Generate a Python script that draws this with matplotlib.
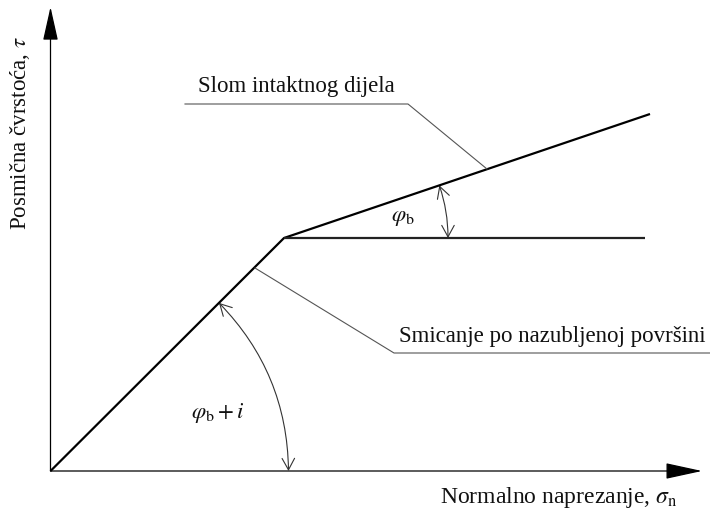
import numpy as np
import matplotlib
matplotlib.use("Agg")
import matplotlib.pyplot as plt
from matplotlib.patches import FancyArrowPatch

plt.rcParams['font.family'] = ['Liberation Serif', 'DejaVu Serif']
plt.rcParams['mathtext.fontset'] = 'stix'

# bilinear failure envelope (normal stress sigma, shear strength tau)
env_sigma = [0.0, 233.5, 599.5]
env_tau = [0.0, 233.0, 357.0]
# horizontal continuation (sliding on base friction)
hor_sigma = [233.5, 594.5]
hor_tau = [233.0, 233.0]

xlabel = "Normalno naprezanje, $\\sigma_\\mathrm{n}$"
ylabel = "Posmična čvrstoća, $\\tau$"
label_intact = "Slom intaktnog dijela"
label_teeth = "Smicanje po nazubljenoj površini"
label_phib = "$\\varphi_\\mathrm{b}$"
label_phibi = "$\\varphi_\\mathrm{b} + i$"

fig = plt.figure(figsize=(7.10, 5.11), dpi=100)
ax = fig.add_axes([0, 0, 1, 1])
ax.set_xlim(-50.5, 659.5)
ax.set_ylim(-40, 471)
ax.set_aspect('equal')
ax.axis('off')

# axes arrows
ax.add_patch(FancyArrowPatch((0, 0), (0, 464), arrowstyle='-|>,head_length=21,head_width=4.7',
                             mutation_scale=1, lw=0.9, color='black', shrinkA=0, shrinkB=0))
ax.add_patch(FancyArrowPatch((0, 0), (651.5, 0), arrowstyle='-|>,head_length=23,head_width=5',
                             mutation_scale=1, lw=0.9, color='black', shrinkA=0, shrinkB=0))

# envelope lines
ax.plot(env_sigma, env_tau, color='black', lw=1.6, solid_capstyle='butt')
ax.plot(hor_sigma, hor_tau, color='#222222', lw=1.6, solid_capstyle='butt')

def angle_arrow(center, R, theta):
    cx, cy = center
    a = (cx + R, cy)
    b = (cx + R * np.cos(theta), cy + R * np.sin(theta))
    rad = np.tan(theta / 4)
    ax.add_patch(FancyArrowPatch(a, b, connectionstyle=f'arc3,rad={rad}',
                                 arrowstyle='<->,head_length=0.55,head_width=0.3',
                                 mutation_scale=15, lw=0.8, color='#333333',
                                 shrinkA=0, shrinkB=0))

theta1 = np.arctan2(env_tau[1] - env_tau[0], env_sigma[1] - env_sigma[0])
theta2 = np.arctan2(env_tau[2] - env_tau[1], env_sigma[2] - env_sigma[1])
angle_arrow((env_sigma[0], env_tau[0]), 238, theta1)
angle_arrow((env_sigma[1], env_tau[1]), 164, theta2)

# leader lines
ax.plot([134.5, 357.5, 436.5], [367, 367, 302], color='#555555', lw=0.8)
ax.plot([659.5, 343.5, 204.5], [118, 118, 203], color='#555555', lw=0.8)

txt = dict(color='#111111', fontsize=16.5)
ax.text(147.5, 379, label_intact, ha='left', va='baseline', **txt)
ax.text(348.5, 129, label_teeth, ha='left', va='baseline', **txt)
ax.text(352.5, 254, label_phib, ha='center', va='center', **txt)
ax.text(167.5, 58, label_phibi, ha='center', va='center', **txt)
ax.text(627.5, -32, xlabel, ha='right', va='baseline', color='#111111', fontsize=17)
ax.text(-30.5, 338, ylabel, ha='center', va='center', rotation=90, **txt)

fig.savefig('out.png', dpi=100)
